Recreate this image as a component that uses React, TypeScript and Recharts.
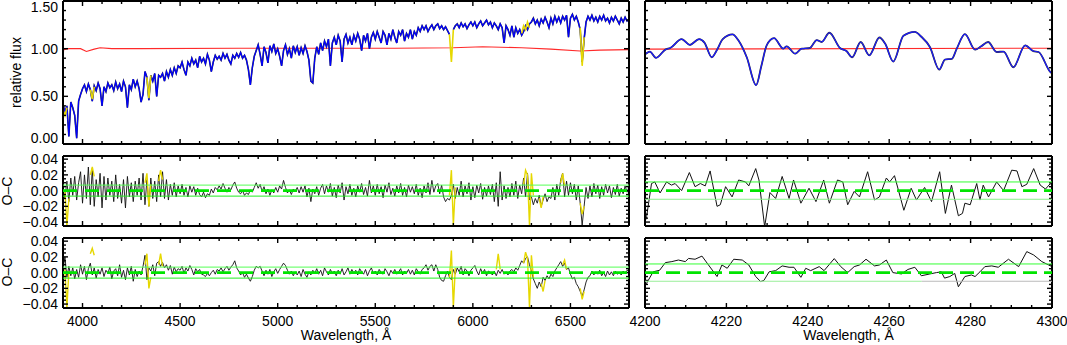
import React from 'react';
import { LineChart, Line, XAxis, YAxis } from 'recharts';

const W = 1067;
const H = 345;
const FONT = '"Liberation Sans", Arial, Helvetica, sans-serif';

// full spectrum sampled every 10 Å from 3900 Å
const SPEC_START = 3900;
const SPEC_STEP = 10;

// observed relative flux (blue); null where the pixel is masked
const OBS_FLUX: (number | null)[] = [
  0.42, 0.33, 0.40, 0.08, 0.44, 0.38, 0.30, 0.06, 0.45, 0.52,
  0.58, 0.62, 0.55, 0.63, 0.57, 0.45, 0.61, 0.56, 0.64, 0.58,
  0.40, 0.60, 0.55, 0.64, 0.59, 0.62, 0.56, 0.65, 0.58, 0.63,
  0.55, 0.66, 0.60, 0.38, 0.62, 0.57, 0.68, 0.60, 0.66, 0.58,
  0.44, 0.52, 0.76, 0.70, 0.46, 0.72, 0.66, 0.74, 0.50, 0.72,
  0.70, 0.74, 0.66, 0.76, 0.70, 0.78, 0.72, 0.80, 0.74, 0.82,
  0.80, 0.86, 0.78, 0.72, 0.86, 0.82, 0.90, 0.84, 0.88, 0.80,
  0.92, 0.86, 0.90, 0.84, 0.94, 0.88, 0.76, 0.86, 0.93, 0.89,
  0.92, 0.88, 0.95, 0.90, 0.94, 0.88, 0.84, 0.93, 0.90, 0.95,
  0.91, 0.96, 0.90, 0.93, 0.88, 0.78, 0.62, 0.80, 0.92, 0.98,
  1.04, 0.94, 0.82, 1.02, 0.96, 0.85, 1.03, 0.97, 1.05, 0.95,
  1.00, 0.92, 0.82, 0.98, 1.04, 0.94, 1.00, 0.90, 1.03, 0.96,
  1.02, 0.93, 1.01, 0.95, 1.03, 0.97, 0.88, 0.66, 0.64, 0.90,
  1.02, 0.94, 1.06, 0.98, 1.08, 1.02, 1.10, 0.82, 1.06, 1.12,
  1.04, 1.14, 1.08, 0.86, 1.10, 1.15, 1.06, 1.12, 1.04, 1.14,
  1.08, 1.16, 1.10, 0.98, 1.14, 1.08, 1.16, 1.00, 1.12, 1.17,
  1.10, 1.18, 1.12, 1.06, 1.18, 1.14, 1.04, 1.16, 1.10, 1.20,
  1.12, 1.06, 1.18, 1.14, 1.20, 1.08, 1.16, 1.12, 1.20, 1.10,
  1.18, 1.14, 1.22, 1.18, 1.24, 1.20, 1.24, 1.18, 1.22, 1.25,
  1.20, 1.24, 1.26, 1.21, 1.24, 1.20, 1.23, 1.19, 1.15, null,
  1.20, 1.24, 1.26, 1.22, 1.27, 1.23, 1.26, 1.21, 1.25, 1.28,
  1.24, 1.28, 1.22, 1.26, 1.29, 1.24, 1.27, 1.30, 1.25, 1.28,
  1.22, 1.27, 1.24, 1.20, 1.26, 1.22, 1.06, 1.24, 1.20, 1.14,
  1.24, 1.12, 1.22, 1.16, 1.20, 1.14, 1.18, 1.24, 1.20, 1.26,
  1.28, 1.32, 1.26, 1.30, 1.24, 1.31, 1.27, 1.33, 1.28, 1.22,
  1.32, 1.26, 1.34, 1.28, 1.33, 1.27, 1.34, 1.30, 1.35, 1.12,
  1.32, 1.36, 1.30, 1.34, 1.28, 1.20, 0.86, 1.10, 1.28, 1.34,
  1.30, 1.35, 1.29, 1.33, 1.28, 1.34, 1.30, 1.35, 1.29, 1.32,
  1.27, 1.33, 1.29, 1.34, 1.30, 1.26, 1.32, 1.28, 1.33, 1.29,
  1.31,
];

// masked pixels on the flux panel (yellow), [Å, flux]
const MASK_FLUX: [number, number][][] = [
  [[3900, 0.36], [3910, 0.30], [3920, 0.38]],
  [[4040, 0.57], [4050, 0.47], [4060, 0.60]],
  [[4330, 0.70], [4340, 0.48], [4350, 0.72]],
  [[5880, 1.15], [5890, 0.86], [5900, 1.20]],
  [[6250, 1.16], [6260, 1.24], [6270, 1.20], [6280, 1.28], [6290, 1.22]],
  [[6550, 1.22], [6560, 0.82], [6570, 1.12]],
];

// normalisation curve (red)
const CONT_FLUX: [number, number][] = [
  [3900, 0.84], [3903, 0.99], [3930, 1.0], [3990, 1.0], [4020, 0.97], [4060, 0.995],
  [4090, 1.01], [4150, 1.0], [4300, 1.0], [4800, 1.005], [5200, 1.005], [5600, 1.005],
  [5900, 1.01], [6050, 1.02], [6250, 1.01], [6400, 0.995], [6550, 0.975], [6650, 0.985],
  [6800, 0.99],
];

// O-C residuals of the full spectrum, in units of 0.001
const OC_FIT1: number[] = [
  4, -10, 12, -14, 16, -6, 18, -12, 10, 24,
  -16, 20, -10, 30, -18, 28, -20, 14, -8, 22,
  -22, 18, -12, 16, -6, 12, -14, 20, -10, 8,
  -16, 14, -22, 18, -8, 10, -14, 12, -6, 16,
  -12, 22, -18, 14, -20, 16, -10, 12, -14, 20,
  -8, 24, -10, 14, -12, 8, -6, 10, -8, 6,
  -4, 8, -6, 4, -8, 6, -2, 5, -6, 3,
  -5, -8, -2, -9, -4, -6, 2, -3, 4, 1,
  6, 2, 9, 3, -2, 4, 1, 7, 11, 3,
  -2, -4, 0, -6, -3, -5, 1, -2, 4, 10,
  3, 8, -1, 5, -4, 2, -6, 1, -3, 4,
  -2, 6, 2, 13, 4, -3, 1, -5, 2, -1,
  4, -3, 5, -2, 6, -8, 3, -14, 2, -4,
  5, -6, 3, 8, -4, 6, -2, 9, -7, 4,
  -9, 7, -3, 10, -12, 5, -4, 8, -6, 3,
  -8, 6, -2, 9, -5, 4, -7, 13, -3, 6,
  -6, 8, -4, 5, -9, 7, -2, 10, -5, 3,
  -7, 6, -3, 9, -6, 4, -8, 7, -2, 5,
  -4, 8, -6, 3, -9, 6, -3, 10, -5, 13,
  -2, 6, 9, -4, 7, -8, -14, -10, -12, -6,
  8, -10, 4, -6, 12, -8, 6, -4, 10, -12,
  5, -9, 7, -3, 9, -11, 4, -7, 6, -5,
  8, -14, 10, -20, 24, -12, 6, -10, 4, -8,
  9, -6, 12, -10, 7, -4, 16, -8, 22, -12,
  -8, -18, -10, -16, -6, -20, -12, -4, -14, -8,
  -10, 4, -12, 8, -6, 14, 22, -8, 12, -6,
  10, -4, 8, -12, 6, -16, -44, -20, 4, -10,
  6, -8, 9, -4, 7, -10, 5, -6, 8, -3,
  6, -9, 4, -5, 8, -7, 3, -4, 6, -2,
  5,
];

const OC_FIT2: number[] = [
  4, 20, -6, 8, -4, 6, -8, 4, -6, 10,
  -2, 8, -9, 5, 12, -3, 6, -7, 4, -2,
  6, -5, 3, -1, 7, -8, 2, 5, -4, 10,
  -6, 3, -9, 6, -3, 8, -11, 4, -5, 2,
  -3, 8, 22, -9, 6, 2, 10, -4, 12, 14,
  8, 13, 6, 10, 3, 9, -2, 7, 1, 5,
  3, 8, -1, 6, 2, 9, 4, -3, 5, 1,
  4, -2, -3, -5, -1, -4, 0, 3, -2, 4,
  2, 6, 1, 5, 8, 3, 7, 10, 15, 6,
  2, -3, 0, -6, -2, -7, -11, -5, 3, 8,
  6, 8, 2, -4, 3, -2, 4, -5, 1, 5,
  -1, 4, 8, 12, 9, 3, -2, 2, -4, 1,
  -3, 2, -5, 4, -2, -6, 1, -3, 3, -1,
  5, -2, 3, -4, 6, 1, -3, 4, -1, 2,
  -4, 3, -2, 5, -3, 1, 6, -2, 4, -1,
  3, -3, 5, 1, -2, 4, -4, 2, 6, -1,
  2, -3, 4, 0, -2, 5, 1, -4, 3, -1,
  4, -2, 1, 5, -3, 2, -1, 4, -2, 3,
  -3, 5, 1, -2, 4, 6, 10, 3, 8, 10,
  2, 10, 4, -6, -10, -11, -4, 2, -6, -9,
  4, -2, 6, 1, 8, -3, 5, 2, -4, 3,
  6, 9, 2, -3, 5, -1, 4, -4, 2, 0,
  -3, 2, -4, 3, -1, 4, -2, 1, -3, 2,
  4, 1, 6, 3, 9, 15, 12, 18, 20, 10,
  2, -8, -14, -20, -12, -18, -6, -10, -4, -8,
  -2, -5, 2, 6, 10, 14, 8, 12, 4, 6,
  -2, -8, -6, -14, -18, -24, -30, -22, -12, -6,
  -4, 2, -3, 1, -2, 3, -4, 0, -5, 2,
  -3, 1, -4, 2, -2, 0, -3, 2, -1, 3,
  1,
];

// masked residuals (yellow), [Å, 0.001]
const MASK_OC1: [number, number][][] = [
  [[3910, 0], [3920, -45], [3930, -10]],
  [[4040, 20], [4050, 30], [4060, 18]],
  [[4320, 10], [4330, 22], [4340, -20], [4350, 8]],
  [[4390, 12], [4400, 26], [4410, 14]],
  [[5880, -6], [5890, 26], [5900, -44], [5910, 4]],
  [[6260, 8], [6270, 26], [6280, 20], [6290, -44], [6300, 22], [6310, -6]],
  [[6340, -10], [6350, -22], [6360, -8]],
  [[6450, 10], [6460, 22], [6470, 6]],
  [[6550, -16], [6560, -30], [6570, -20]],
];

const MASK_OC2: [number, number][][] = [
  [[3910, 4], [3920, -45], [3930, 2]],
  [[4040, 24], [4050, 31], [4060, 22]],
  [[4320, 10], [4330, 24], [4340, -20], [4350, -6]],
  [[4390, 10], [4400, 24], [4410, 8]],
  [[5880, -6], [5890, 28], [5900, -44], [5910, 6]],
  [[6120, 4], [6130, 24], [6140, 4]],
  [[6260, 12], [6270, 26], [6280, 18], [6290, -44], [6300, 22], [6310, -6]],
  [[6350, -14], [6360, -24], [6370, -10]],
  [[6460, 10], [6470, 16], [6480, 4]],
  [[6550, -20], [6560, -34], [6570, -24]],
];

// 4200-4300 Å close-up
const ZOOM_FLUX: [number, number][] = [
  [4200.0, 0.94], [4200.2, 0.947], [4201.2, 0.97], [4202.7, 0.904], [4205.0, 0.99], [4206.2, 1.007],
  [4209.0, 1.10], [4211.0, 1.04], [4213.3, 1.10], [4214.6, 1.064], [4216.4, 0.91], [4217.6, 0.98],
  [4219.1, 1.10], [4221.5, 1.15], [4222.9, 1.09], [4225.0, 0.91], [4227.3, 0.617], [4228.6, 0.82],
  [4229.9, 1.035], [4231.7, 1.11], [4234.0, 1.00], [4234.8, 1.025], [4236.9, 0.947], [4238.5, 1.0],
  [4240.5, 1.007], [4242.2, 1.09], [4243.4, 1.07], [4245.3, 1.167], [4247.9, 1.007], [4249.5, 0.975],
  [4250.9, 0.91], [4253.0, 1.07], [4255.1, 0.93], [4257.6, 1.117], [4259.0, 1.053], [4261.0, 0.865],
  [4263.5, 1.135], [4266.3, 1.177], [4267.9, 1.125], [4270.0, 1.018], [4272.3, 0.78], [4273.7, 0.886],
  [4275.4, 0.894], [4276.6, 1.0], [4278.6, 1.152], [4281.1, 0.989], [4282.6, 1.025], [4284.3, 1.07],
  [4286.4, 0.965], [4288.1, 0.97], [4290.5, 0.805], [4293.4, 1.035], [4295.4, 0.975], [4296.7, 0.965],
  [4299.5, 0.76], [4300.0, 0.74],
];

const ZOOM_CONT: [number, number][] = [[4200, 0.995], [4300, 1.005]];

const ZOOM_OC1: [number, number][] = [
  [4200.0, -40], [4200.4, -33], [4201.6, 9], [4202.4, 11], [4203.7, -3], [4205.3, 11], [4206.5, 7],
  [4207.4, 9], [4209.0, 0], [4210.9, 23], [4212.3, 5], [4213.6, 9], [4214.8, 6], [4216.0, 25],
  [4217.7, -20], [4218.5, -18], [4219.8, 5], [4221.4, -8], [4223.0, 13.5], [4224.7, 11], [4225.5, 6],
  [4227.2, 28], [4228.0, 13.5], [4229.4, -46], [4230.7, -2.5], [4232.1, -10], [4233.7, 18],
  [4235.4, -10], [4236.5, 13.5], [4238.3, -16], [4240.3, 3], [4242.0, -14], [4243.9, 13.5],
  [4245.3, -16], [4247.3, 13.5], [4248.6, 11], [4249.8, -18], [4251.4, -1], [4252.7, -8],
  [4254.7, 24], [4256.4, -12], [4257.6, -8], [4259.3, 16], [4260.1, 11], [4261.3, 19],
  [4263.6, -25], [4265.4, 3], [4266.7, -12], [4268.7, 4], [4270.4, -14], [4272.4, 24],
  [4273.8, -29], [4275.3, 7], [4277.0, -32], [4278.0, -29], [4278.6, -16], [4279.9, -18],
  [4281.5, 9], [4282.3, -12], [4283.1, 7], [4284.4, -8], [4286.4, 11], [4288.1, 0],
  [4290.1, 26], [4291.4, 25], [4292.6, 5], [4293.8, 8], [4295.5, 28], [4297.1, 7],
  [4298.4, 2], [4299.6, 9], [4300.0, 6],
];

const ZOOM_OC2: [number, number][] = [
  [4200.0, -16], [4200.4, -13.5], [4202.0, 1], [4203.6, 3], [4205.0, 12.7], [4206.6, 14],
  [4208.2, 16], [4209.9, 14], [4210.7, 18], [4212.3, 17], [4214.0, 21], [4215.6, 9.7],
  [4217.7, -5], [4218.9, 9.7], [4220.2, 5.5], [4221.8, 17], [4223.9, 16], [4225.5, 9.7],
  [4227.2, -5], [4228.4, -11.4], [4229.2, -10], [4230.5, 1], [4232.1, 2.5], [4233.7, 8.5],
  [4235.4, 6.8], [4236.6, 6.8], [4238.3, -6], [4239.5, 5.5], [4240.7, 2.5], [4242.8, 7.6],
  [4244.0, 2.5], [4246.5, 17.8], [4248.1, 7.6], [4249.8, 0], [4251.4, 7.6], [4252.7, 9.7],
  [4254.3, 17], [4256.4, 8.5], [4257.6, 9.7], [4259.3, 16], [4260.9, 0], [4263.0, -1.7],
  [4264.6, 4], [4266.3, 6.8], [4267.9, -4], [4270.0, -1.7], [4271.6, 0], [4272.8, 1],
  [4273.6, -7], [4274.9, -5], [4276.1, -1], [4277.0, -18], [4278.6, -5], [4280.2, -3],
  [4281.1, -5], [4282.3, 1], [4283.5, 7.6], [4285.2, 8.5], [4286.8, 6.8], [4289.3, 17],
  [4291.8, 7.6], [4293.8, 26.7], [4295.5, 22.4], [4297.5, 14], [4300.0, 7.6],
];

// acceptance band of the residuals (0.001)
const BAND_WIDE = 7;
const BAND_ZOOM = 11;
// where the lower band of the last close-up turns grey
const BAND_ZOOM_SPLIT = 4268;

// axis ticks
const WIDE_X_MAJOR = [4000, 4500, 5000, 5500, 6000, 6500];
const ZOOM_X_MAJOR = [4200, 4220, 4240, 4260, 4280, 4300];
const FLUX_Y_MAJOR = [0, 0.5, 1, 1.5];
const OC_Y_MAJOR = [-40, -20, 0, 20, 40];

const steps = (from: number, to: number, step: number) => {
  const out: number[] = [];
  for (let v = from; v <= to + 1e-9; v += step) out.push(Math.round(v * 1000) / 1000);
  return out;
};
const WIDE_X_TICKS = steps(3900, 6800, 100);
const ZOOM_X_TICKS = steps(4200, 4300, 5);
const FLUX_Y_TICKS = steps(0, 1.5, 0.1);
const OC_Y_TICKS = steps(-40, 40, 5);

const specPoints = (vals: (number | null)[]) =>
  vals.map((v, i) => ({ wl: SPEC_START + i * SPEC_STEP, v }));
const pairPoints = (pairs: [number, number][]) => pairs.map(([wl, v]) => ({ wl, v }));
const level = (x0: number, x1: number, y: number) => [{ wl: x0, v: y }, { wl: x1, v: y }];

const fluxLabel = (v: number) => v.toFixed(2);
const ocLabel = (v: number) => (v / 1000).toFixed(2).replace('-', '\u2212');

type Side = 'bottom' | 'top' | 'left' | 'right';

function tickRenderer(side: Side, majors: number[], label?: (v: number) => string, domain?: [number, number]) {
  return (p: any) => {
    const v = p.payload.value;
    const isMajor = majors.some((m) => Math.abs(m - v) < 1e-6);
    const len = isMajor ? 5 : 3;
    const x = p.x;
    const y = p.y;
    let x2 = x;
    let y2 = y;
    if (side === 'bottom') y2 = y - len;
    else if (side === 'top') y2 = y + len;
    else if (side === 'left') x2 = x + len;
    else x2 = x - len;
    let text = null;
    if (label && isMajor) {
      if (side === 'bottom') {
        text = (
          <text x={x} y={y + 18} textAnchor="middle" fontSize={14} fontFamily={FONT} fill="#000">
            {label(v)}
          </text>
        );
      } else if (side === 'left') {
        let shift = 0;
        if (domain && Math.abs(v - domain[0]) < 1e-6) shift = -6;
        if (domain && Math.abs(v - domain[1]) < 1e-6) shift = 6;
        text = (
          <text x={x - 5} y={y + 5 + shift} textAnchor="end" fontSize={14} fontFamily={FONT} fill="#000">
            {label(v)}
          </text>
        );
      }
    }
    return (
      <g>
        <line x1={x} y1={y} x2={x2} y2={y2} stroke="#000" strokeWidth={1.4} />
        {text}
      </g>
    );
  };
}

type Box = { l: number; r: number; t: number; b: number };

// axes are 1px thick so Recharts still draws them; margins absorb that pixel.
// a "bare" panel keeps the same plot area but draws no frame or ticks (used as an overlay)
function Panel(props: {
  box: Box;
  xDomain: [number, number];
  yDomain: [number, number];
  xTicks: number[];
  xMajor: number[];
  yTicks: number[];
  yMajor: number[];
  xLabel?: (v: number) => string;
  yLabel?: (v: number) => string;
  bare?: boolean;
  children: React.ReactNode;
}) {
  const { box, xDomain, yDomain, xTicks, xMajor, yTicks, yMajor, xLabel, yLabel, bare } = props;
  const axisLine = bare ? false : { stroke: '#000', strokeWidth: 2 };
  return (
    <div style={{ position: 'absolute', left: 0, top: 0 }}>
      <LineChart
        width={W}
        height={H}
        margin={{ top: box.t - 1, bottom: H - box.b - 1, left: box.l - 1, right: W - box.r - 1 }}
      >
        <XAxis
          xAxisId="b"
          dataKey="wl"
          type="number"
          orientation="bottom"
          domain={xDomain}
          allowDataOverflow
          ticks={xTicks}
          interval={0}
          height={1}
          tickSize={0}
          tickMargin={0}
          tickLine={false}
          axisLine={axisLine}
          tick={bare ? false : tickRenderer('bottom', xMajor, xLabel)}
        />
        <XAxis
          xAxisId="t"
          dataKey="wl"
          type="number"
          orientation="top"
          domain={xDomain}
          allowDataOverflow
          ticks={xTicks}
          interval={0}
          height={1}
          tickSize={0}
          tickMargin={0}
          tickLine={false}
          axisLine={axisLine}
          tick={bare ? false : tickRenderer('top', xMajor)}
        />
        <YAxis
          yAxisId="l"
          type="number"
          orientation="left"
          domain={yDomain}
          allowDataOverflow
          ticks={yTicks}
          interval={0}
          width={1}
          tickSize={0}
          tickMargin={0}
          tickLine={false}
          axisLine={axisLine}
          tick={bare ? false : tickRenderer('left', yMajor, yLabel, yDomain)}
        />
        <YAxis
          yAxisId="r"
          type="number"
          orientation="right"
          domain={yDomain}
          allowDataOverflow
          ticks={yTicks}
          interval={0}
          width={1}
          tickSize={0}
          tickMargin={0}
          tickLine={false}
          axisLine={axisLine}
          tick={bare ? false : tickRenderer('right', yMajor)}
        />
        {props.children}
      </LineChart>
    </div>
  );
}

function series(
  data: any[],
  stroke: string,
  width: number,
  key: string,
  type: 'linear' | 'monotone' = 'linear',
  dash?: string,
) {
  return (
    <Line
      key={key}
      data={data}
      dataKey="v"
      xAxisId="b"
      yAxisId="l"
      type={type}
      stroke={stroke}
      strokeWidth={width}
      strokeDasharray={dash}
      dot={false}
      activeDot={false}
      isAnimationActive={false}
      connectNulls={false}
    />
  );
}

const WIDE: [number, number] = [3900, 6800];
const ZOOM: [number, number] = [4200, 4300];
const FLUX_DOM: [number, number] = [0, 1.5];
const OC_DOM: [number, number] = [-45, 44];

const BOX_TL = { l: 63, r: 629, t: 1, b: 144 };
const BOX_ML = { l: 63, r: 629, t: 156, b: 226 };
const BOX_BL = { l: 63, r: 629, t: 238, b: 308 };
const BOX_TR = { l: 645, r: 1052, t: 1, b: 144 };
const BOX_MR = { l: 645, r: 1052, t: 156, b: 226 };
const BOX_BR = { l: 645, r: 1052, t: 238, b: 308 };

const GREEN_UP = '#55ff55';
const GREEN_DOWN = '#22ee22';
const GREEN_DASH = '#00e400';

export default function App() {
  const obs = specPoints(OBS_FLUX);
  const oc1 = specPoints(OC_FIT1);
  const oc2 = specPoints(OC_FIT2);
  const xLab = (v: number) => String(v);

  const wideOc = { xDomain: WIDE, yDomain: OC_DOM, xTicks: WIDE_X_TICKS, xMajor: WIDE_X_MAJOR, yTicks: OC_Y_TICKS, yMajor: OC_Y_MAJOR };
  const zoomOc = { xDomain: ZOOM, yDomain: OC_DOM, xTicks: ZOOM_X_TICKS, xMajor: ZOOM_X_MAJOR, yTicks: OC_Y_TICKS, yMajor: OC_Y_MAJOR };

  return (
    <div style={{ position: 'fixed', left: 0, top: 0, width: W, height: H, background: '#fff', overflow: 'hidden' }}>
      <Panel box={BOX_TL} xDomain={WIDE} yDomain={FLUX_DOM} xTicks={WIDE_X_TICKS} xMajor={WIDE_X_MAJOR}
        yTicks={FLUX_Y_TICKS} yMajor={FLUX_Y_MAJOR} yLabel={fluxLabel}>
        {series(pairPoints(CONT_FLUX), '#ff2a2a', 1.1, 'cont')}
        {series(obs, '#333', 1.6, 'model')}
        {series(obs, '#0000ff', 1.2, 'obs')}
        {MASK_FLUX.map((seg, i) => series(pairPoints(seg), '#e6d800', 1.6, `mf${i}`))}
      </Panel>

      <Panel box={BOX_ML} {...wideOc} yLabel={ocLabel}>
        {series(oc1, '#111', 0.9, 'oc1')}
        {MASK_OC1.map((seg, i) => series(pairPoints(seg), '#e6d800', 1.4, `m1${i}`))}
      </Panel>
      <Panel box={BOX_ML} {...wideOc} bare>
        {series(level(WIDE[0], WIDE[1], BAND_WIDE), GREEN_UP, 1, 'g1u')}
        {series(level(WIDE[0], WIDE[1], -BAND_WIDE), GREEN_DOWN, 1, 'g1d')}
        {series(level(WIDE[0], WIDE[1], 0), GREEN_DASH, 2.8, 'g1z', 'linear', '14 8')}
      </Panel>

      <Panel box={BOX_BL} {...wideOc} yLabel={ocLabel} xLabel={xLab}>
        {series(oc2, '#111', 0.9, 'oc2')}
        {MASK_OC2.map((seg, i) => series(pairPoints(seg), '#e6d800', 1.4, `m2${i}`))}
      </Panel>
      <Panel box={BOX_BL} {...wideOc} bare>
        {series(level(WIDE[0], WIDE[1], BAND_WIDE), GREEN_UP, 1, 'g2u')}
        {series(level(WIDE[0], WIDE[1], -BAND_WIDE), GREEN_DOWN, 1, 'g2d')}
        {series(level(WIDE[0], WIDE[1], 0), GREEN_DASH, 2.8, 'g2z', 'linear', '14 8')}
      </Panel>

      <Panel box={BOX_TR} xDomain={ZOOM} yDomain={FLUX_DOM} xTicks={ZOOM_X_TICKS} xMajor={ZOOM_X_MAJOR}
        yTicks={FLUX_Y_TICKS} yMajor={FLUX_Y_MAJOR}>
        {series(pairPoints(ZOOM_CONT), '#ff2a2a', 1.1, 'zcont')}
        {series(pairPoints(ZOOM_FLUX), '#333', 1.8, 'zmodel', 'monotone')}
        {series(pairPoints(ZOOM_FLUX), '#1a1aff', 1.2, 'zobs', 'monotone')}
      </Panel>

      <Panel box={BOX_MR} {...zoomOc}>
        {series(pairPoints(ZOOM_OC1), '#111', 1, 'zoc1')}
      </Panel>
      <Panel box={BOX_MR} {...zoomOc} bare>
        {series(level(ZOOM[0], ZOOM[1], BAND_ZOOM), '#33ff33', 1, 'g3u')}
        {series(level(ZOOM[0], ZOOM[1], -BAND_ZOOM), '#88f088', 1, 'g3d')}
        {series(level(ZOOM[0], ZOOM[1], 0), GREEN_DASH, 2.6, 'g3z', 'linear', '14 7')}
      </Panel>

      <Panel box={BOX_BR} {...zoomOc} xLabel={xLab}>
        {series(pairPoints(ZOOM_OC2), '#111', 1, 'zoc2')}
      </Panel>
      <Panel box={BOX_BR} {...zoomOc} bare>
        {series(level(ZOOM[0], ZOOM[1], BAND_ZOOM), '#33ff33', 1, 'g4u')}
        {series(level(ZOOM[0], BAND_ZOOM_SPLIT, -BAND_ZOOM), '#99ee99', 1, 'g4d1')}
        {series(level(BAND_ZOOM_SPLIT, ZOOM[1], -BAND_ZOOM), '#bbbbbb', 1, 'g4d2')}
        {series(level(ZOOM[0], ZOOM[1], 0), GREEN_DASH, 2.6, 'g4z', 'linear', '14 7')}
      </Panel>

      <svg width={W} height={H} style={{ position: 'absolute', left: 0, top: 0, pointerEvents: 'none' }}>
        <g fontFamily={FONT} fontSize={14} fill="#000">
          <text x={20.5} y={72.5} transform="rotate(-90 20.5 72.5)" textAnchor="middle">relative flux</text>
          <text x={12} y={191} transform="rotate(-90 12 191)" textAnchor="middle">O–C</text>
          <text x={12} y={272} transform="rotate(-90 12 272)" textAnchor="middle">O–C</text>
          <text x={346} y={340} textAnchor="middle">Wavelength, Å</text>
          <text x={848.5} y={340} textAnchor="middle">Wavelength, Å</text>
        </g>
      </svg>
    </div>
  );
}
